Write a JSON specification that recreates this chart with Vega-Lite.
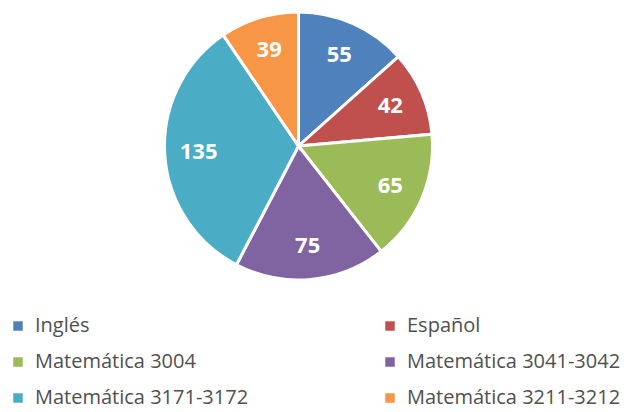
{
  "$schema": "https://vega.github.io/schema/vega-lite/v6.json",
  "width": 597,
  "height": 292,
  "padding": {"left": 0, "top": 0, "right": 34, "bottom": 120},
  "autosize": {"type": "none"},
  "background": "white",
  "view": {"stroke": null},
  "data": {"values": [
    {"idx": 1, "materia": "Inglés", "valor": 55},
    {"idx": 2, "materia": "Español", "valor": 42},
    {"idx": 3, "materia": "Matemática 3004", "valor": 65},
    {"idx": 4, "materia": "Matemática 3041-3042", "valor": 75},
    {"idx": 5, "materia": "Matemática 3171-3172", "valor": 135},
    {"idx": 6, "materia": "Matemática 3211-3212", "valor": 39}
  ]},
  "encoding": {
    "theta": {"field": "valor", "type": "quantitative", "stack": true},
    "order": {"field": "idx", "type": "quantitative"},
    "color": {
      "field": "materia", "type": "nominal",
      "scale": {
        "domain": ["Inglés", "Español", "Matemática 3004", "Matemática 3041-3042", "Matemática 3171-3172", "Matemática 3211-3212"],
        "range": ["#4F81BD", "#C0504D", "#9BBB59", "#8064A2", "#4BACC6", "#F79646"]
      },
      "legend": {
        "orient": "none",
        "legendX": 8,
        "legendY": 316,
        "direction": "horizontal",
        "columns": 2,
        "title": null,
        "symbolType": "square",
        "symbolSize": 90,
        "symbolStrokeWidth": 0,
        "labelFont": "Open Sans",
        "labelFontSize": 20,
        "labelColor": "#505050",
        "labelOffset": 7,
        "labelLimit": 400,
        "columnPadding": 131,
        "rowPadding": 16
      }
    }
  },
  "layer": [
    {
      "mark": {"type": "arc", "outerRadius": 134, "stroke": "white", "strokeWidth": 3}
    },
    {
      "mark": {"type": "text", "radius": 100, "font": "Open Sans", "fontWeight": "bold", "fontSize": 22, "fill": "white", "align": "center", "baseline": "middle"},
      "encoding": {
        "text": {"field": "valor", "type": "quantitative"},
        "color": {"value": "white"}
      }
    }
  ]
}
